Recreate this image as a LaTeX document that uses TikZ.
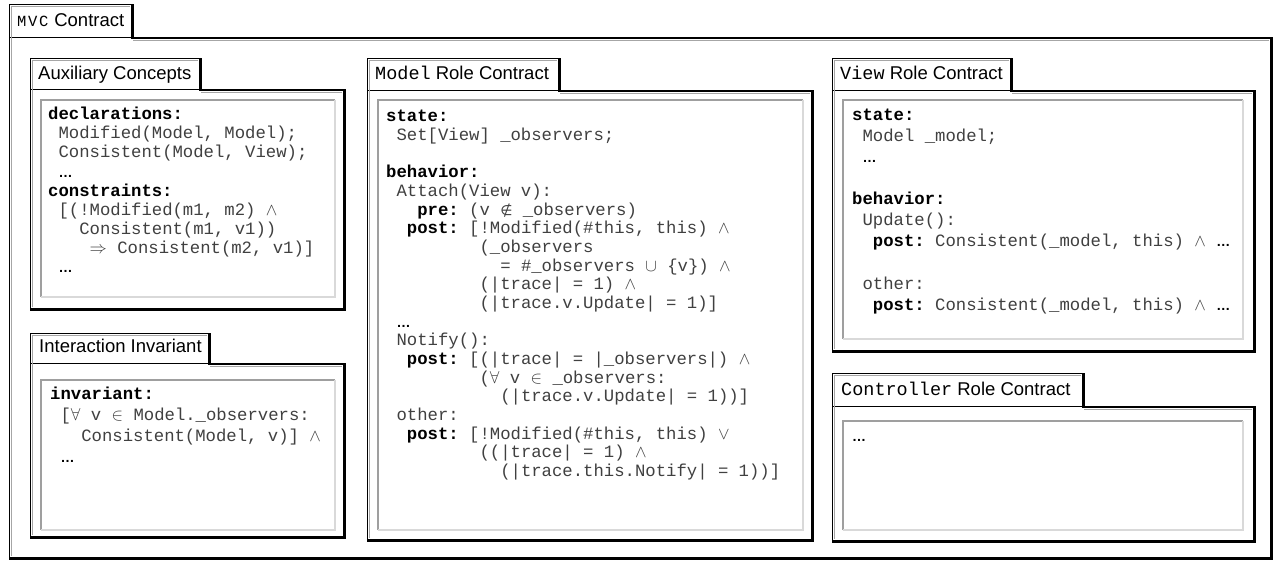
\documentclass[tikz,border=0pt]{standalone}
\usepackage{fontspec}
\setmainfont{Liberation Sans}
\setsansfont{Liberation Sans}
\setmonofont{Liberation Mono}
\newfontfamily\symfont{DejaVu Sans}

\newcommand{\pad}[1]{\hspace*{#1\fontcharwd\font`x}}
\newcommand{\kw}[1]{\textbf{\color{black}#1}}
\newcommand{\etc}{{\sffamily\bfseries\fontsize{14}{14}\selectfont\color{black}…}}
\newcommand{\codefont}[1]{\fontsize{17.28}{#1}\selectfont\ttfamily}
\newcommand{\capbox}[1]{\makebox[11pt]{#1}}

% left, tab top, tab right, box top, box right, box bottom
\newcommand{\umlpackage}[6]{%
  \draw[pkgline] (#1,#2) rectangle (#3,#4);
  \draw[pkgline] (#1,#4) rectangle (#5,#6);
  \draw[pkginner] (#1+2.5,#6-3) -- (#1+2.5,#2+2.5) -- (#3-3,#2+2.5);
  \draw[pkginner] (#3,#4+3) -- (#5-3,#4+3);
  \draw[pkgshade] (#3-1,#2) -- (#3-1,#4+1) -- (#5-1,#4+1) -- (#5-1,#6-1) -- (#1,#6-1);
}
% sunken text area
\newcommand{\well}[4]{%
  \draw[line width=1.2pt,gray!75] (#1,#4) -- (#1,#2) -- (#3,#2);
  \draw[line width=1.2pt,gray!30] (#3,#2) -- (#3,#4) -- (#1,#4);
}

\begin{document}
\begin{tikzpicture}[x=1pt,y=-1pt,
    pkgline/.style={draw=black,line width=0.9pt},
    pkginner/.style={draw=gray!70,line width=0.6pt},
    pkgshade/.style={draw=black,line width=2.6pt},
    tabtitle/.style={anchor=base west,inner sep=0pt,font=\fontsize{18.5}{18.5}\selectfont},
    code/.style={anchor=north west,inner sep=0pt,align=left,text=black!75,font=\codefont{#1}}]
  \useasboundingbox[fill=white] (0,0) rectangle (1273,561);

  % the whole contract
  \umlpackage{9}{4}{133}{37}{1272}{559}
  \node[tabtitle] (mvctitle) at (16,27) {{\ttfamily\fontsize{15.5}{15.5}\selectfont\capbox{M}\capbox{V}\capbox{C}} Contract};

  % auxiliary concepts
  \umlpackage{30}{58}{201}{89}{345}{310}
  \well{41}{100}{335}{297}
  \node[tabtitle] (auxtitle) at (38,80) {Auxiliary Concepts};
  \node[code=19.1] (auxcode) at (48,107) {%
    \kw{declarations:}\\
    \pad{1}Modified(Model, Model);\\
    \pad{1}Consistent(Model, View);\\
    \pad{1}\etc\\
    \kw{constraints:}\\
    \pad{1}[(!Modified(m1, m2) $\wedge$\\
    \pad{3}Consistent(m1, v1))\\
    \pad{4}$\Rightarrow$ Consistent(m2, v1)]\\
    \pad{1}\etc};

  % interaction invariant
  \umlpackage{30}{333}{210}{363}{345}{538}
  \well{41}{380}{335}{530}
  \node[tabtitle] (invtitle) at (39,352) {Interaction Invariant};
  \node[code=21] (invcode) at (50,386.5) {%
    \kw{invariant:}\\
    \pad{1}[$\forall$ v $\in$ Model.\_observers:\\
    \pad{3}Consistent(Model, v)] $\wedge$\\
    \pad{1}\etc};

  % model role
  \umlpackage{367}{58}{560}{90}{813}{541}
  \well{378}{100}{803}{530}
  \node[tabtitle] (modeltitle) at (375,80) {\texttt{Model} Role Contract};
  \node[code=18.68] (modelcode) at (386,110) {%
    \kw{state:}\\
    \pad{1}Set[View] \_observers;\\
    \mbox{}\\
    \kw{behavior:}\\
    \pad{1}Attach(View v):\\
    \pad{3}\kw{pre:} (v {\symfont\fontsize{14}{14}\selectfont ∉} \_observers)\\
    \pad{2}\kw{post:} [!Modified(\#this, this) $\wedge$\\
    \pad{9}(\_observers\\
    \pad{11}= \#\_observers $\cup$ \{v\}) $\wedge$\\
    \pad{9}(|trace| = 1) $\wedge$\\
    \pad{9}(|trace.v.Update| = 1)]\\
    \pad{1}\etc\\
    \pad{1}Notify():\\
    \pad{2}\kw{post:} [(|trace| = |\_observers|) $\wedge$\\
    \pad{9}($\forall$ v $\in$ \_observers:\\
    \pad{11}(|trace.v.Update| = 1))]\\
    \pad{1}other:\\
    \pad{2}\kw{post:} [!Modified(\#this, this) $\vee$\\
    \pad{9}((|trace| = 1) $\wedge$\\
    \pad{11}(|trace.this.Notify| = 1))]};

  % view role
  \umlpackage{832}{58}{1012}{90}{1255}{352}
  \well{843}{100}{1243}{339}
  \node[tabtitle] (viewtitle) at (840,80) {\texttt{View} Role Contract};
  \node[code=21.1] (viewcode) at (852,108.5) {%
    \kw{state:}\\
    \pad{1}Model \_model;\\
    \pad{1}\etc\\
    \mbox{}\\
    \kw{behavior:}\\
    \pad{1}Update():\\
    \pad{2}\kw{post:} Consistent(\_model, this) $\wedge$ \etc\\
    \mbox{}\\
    \pad{1}other:\\
    \pad{2}\kw{post:} Consistent(\_model, this) $\wedge$ \etc};

  % controller role
  \umlpackage{832}{373}{1084}{406}{1255}{542}
  \well{843}{421}{1243}{530}
  \node[tabtitle] (ctrltitle) at (841,395) {\texttt{Controller} Role Contract};
  \node[anchor=base west,inner sep=0pt] (ctrlcode) at (852,441) {\etc};
\end{tikzpicture}
\end{document}
